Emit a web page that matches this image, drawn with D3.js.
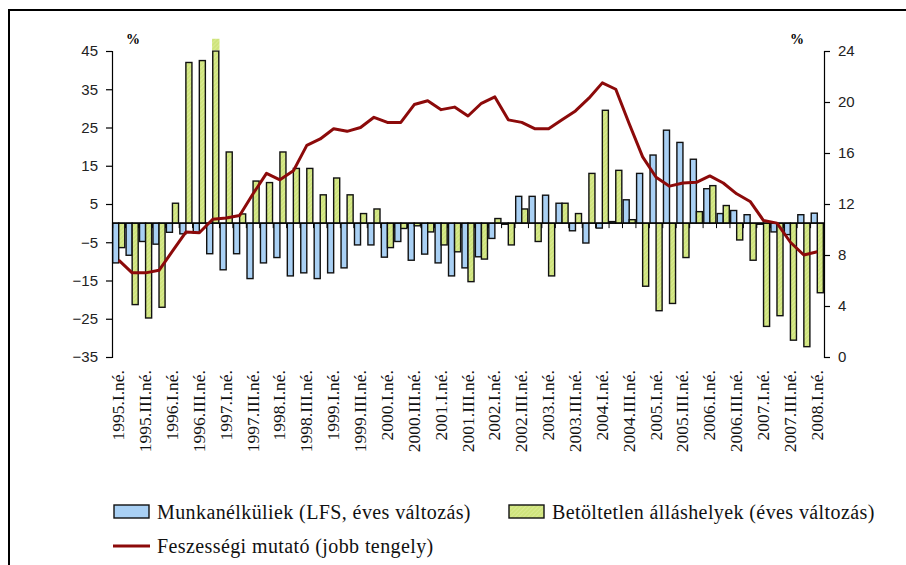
<!DOCTYPE html>
<html>
<head>
<meta charset="utf-8">
<script src="https://cdn.jsdelivr.net/npm/d3@7"></script>
<style>
  body { margin: 0; background: #fff; }
  svg { display: block; }
</style>
</head>
<body>
<svg id="chart" width="906" height="565"></svg>
<script>
// quarters 1995 Q1 .. 2008 Q1
const years = [1995, 1996, 1997, 1998, 1999, 2000, 2001, 2002, 2003, 2004, 2005, 2006, 2007, 2008];
const quarterNames = ['I', 'II', 'III', 'IV'];
const quarters = [];
years.forEach(y => quarterNames.forEach(q => quarters.push(y + '.' + q + '.né.')));
quarters.length = 53;

// Munkanélküliek (LFS, éves változás), %
const unemployed = [
  -10.4, -8.4, -4.8, -5.5, -2.4, -2.8, -2.6, -8.0,
  -12.2, -8.0, -14.5, -10.4, -9.0, -13.8, -13.0, -14.5,
  -13.0, -11.7, -5.7, -5.7, -8.9, -4.8, -9.7, -8.1,
  -10.4, -13.8, -11.7, -8.8, -4.0, -0.3, 7.0, 7.0,
  7.3, 5.2, -2.0, -5.2, -1.3, 0.4, 6.1, 13.0,
  17.8, 24.3, 21.1, 16.7, 9.0, 2.5, 3.3, 2.2,
  -0.3, -2.3, -3.0, 2.2, 2.6
];

// Betöltetlen álláshelyek (éves változás), %
const vacancies = [
  -6.4, -21.3, -24.8, -22.0, 5.2, 42.0, 42.5, 48.2,
  18.6, 2.4, 11.0, 10.6, 18.6, 14.3, 14.3, 7.4,
  11.8, 7.4, 2.5, 3.7, -6.4, -1.4, -0.7, -2.3,
  -5.7, -7.5, -15.3, -9.4, 1.2, -5.7, 3.7, -4.8,
  -13.8, 5.2, 2.5, 13.0, 29.5, 13.8, 0.9, -16.5,
  -22.9, -21.0, -9.0, 3.0, 9.8, 4.6, -4.4, -9.7,
  -27.0, -24.2, -30.6, -32.3, -18.2
];

// Feszességi mutató (jobb tengely)
const tightness = [
  7.6, 6.6, 6.6, 6.8, 8.3, 9.8, 9.75, 10.8,
  10.9, 11.1, 12.8, 14.4, 13.9, 14.6, 16.6, 17.1,
  17.9, 17.7, 18.0, 18.8, 18.4, 18.4, 19.8, 20.1,
  19.4, 19.6, 18.9, 19.9, 20.4, 18.6, 18.4, 17.9,
  17.9, 18.6, 19.3, 20.3, 21.5, 21.0, 18.3, 15.7,
  14.1, 13.4, 13.65, 13.7, 14.2, 13.65, 12.8, 12.2,
  10.7, 10.5, 9.0, 8.0, 8.25
];

const leftTicks = [45, 35, 25, 15, 5, -5, -15, -25, -35];
const rightTicks = [0, 4, 8, 12, 16, 20, 24];
const xLabels = quarters.filter((d, i) => i % 2 === 0);

const legendItems = [
  { label: 'Munkanélküliek (LFS, éves változás)', type: 'blue' },
  { label: 'Betöltetlen álláshelyek (éves változás)', type: 'green' },
  { label: 'Feszességi mutató (jobb tengely)', type: 'line' }
];

const colors = { blue: '#a9d0f4', green: '#cfe47c', line: '#8c0a0a' };

const svg = d3.select('#chart');
const plot = { left: 112, right: 824, top: 51, bottom: 357 };

// frame
svg.append('path')
  .attr('d', `M9,565 L9,10 L906,10`)
  .attr('fill', 'none')
  .attr('stroke', '#000')
  .attr('stroke-width', 2);

// hatch pattern for the green bars
const defs = svg.append('defs');
const pat = defs.append('pattern')
  .attr('id', 'hatch')
  .attr('patternUnits', 'userSpaceOnUse')
  .attr('width', 3).attr('height', 3)
  .attr('patternTransform', 'rotate(45)');
pat.append('rect').attr('width', 3).attr('height', 3).attr('fill', colors.green);
pat.append('line').attr('x1', 0).attr('y1', 0).attr('x2', 0).attr('y2', 3)
  .attr('stroke', '#e4f1a8').attr('stroke-width', 1);

const x = d3.scaleBand()
  .domain(quarters)
  .range([plot.left, plot.right])
  .paddingInner(0.1)
  .paddingOuter(0.05);

const sub = d3.scaleBand()
  .domain(['blue', 'green'])
  .range([0, x.bandwidth()]);

const yL = d3.scaleLinear().domain([-35, 45]).range([plot.bottom, plot.top]);
const yR = d3.scaleLinear().domain([0, 24]).range([plot.bottom, plot.top]);

const step = x.step();

// bars
function drawBars(values, key, fill) {
  const g = svg.append('g');
  values.forEach((v, i) => {
    const bx = x(quarters[i]) + sub(key);
    const vc = Math.max(-35, Math.min(45, v));
    g.append('rect')
      .attr('x', bx)
      .attr('width', sub.bandwidth())
      .attr('y', yL(Math.max(0, vc)))
      .attr('height', Math.abs(yL(vc) - yL(0)))
      .attr('fill', fill)
      .attr('stroke', '#111')
      .attr('stroke-width', 1.4);
    if (v > 45) {
      // the part beyond the axis is shown without an outline
      g.append('rect')
        .attr('x', bx - 0.7)
        .attr('width', sub.bandwidth() + 1.4)
        .attr('y', yL(v))
        .attr('height', yL(45) - yL(v) - 0.7)
        .attr('fill', fill);
    }
  });
}
drawBars(unemployed, 'blue', colors.blue);
drawBars(vacancies, 'green', 'url(#hatch)');

// zero line + category ticks
svg.append('line')
  .attr('x1', plot.left).attr('x2', plot.right)
  .attr('y1', yL(0)).attr('y2', yL(0))
  .attr('stroke', '#000').attr('stroke-width', 1.2);
svg.append('g').selectAll('line')
  .data(d3.range(quarters.length + 1))
  .join('line')
  .attr('x1', i => plot.left + x.paddingOuter() * step + i * step - (i > 0 ? x.paddingInner() * step / 2 : 0))
  .attr('x2', i => plot.left + x.paddingOuter() * step + i * step - (i > 0 ? x.paddingInner() * step / 2 : 0))
  .attr('y1', yL(0)).attr('y2', yL(0) + 5)
  .attr('stroke', '#000').attr('stroke-width', 1);

// left axis
const leftAxis = svg.append('g')
  .attr('transform', `translate(${plot.left},0)`)
  .call(d3.axisLeft(yL).tickValues(leftTicks).tickSize(6).tickPadding(8));
// right axis
const rightAxis = svg.append('g')
  .attr('transform', `translate(${plot.right},0)`)
  .call(d3.axisRight(yR).tickValues(rightTicks).tickSize(6).tickPadding(8));
[leftAxis, rightAxis].forEach(a => {
  a.select('.domain').attr('stroke', '#000').attr('stroke-width', 1.2);
  a.selectAll('.tick line').attr('stroke', '#000').attr('stroke-width', 1.2);
  a.selectAll('.tick text')
    .attr('font-family', 'Liberation Sans, Arial, sans-serif')
    .attr('font-size', 15)
    .attr('fill', '#222');
});

// line series
const line = d3.line()
  .x((d, i) => x(quarters[i]) + x.bandwidth() / 2)
  .y(d => yR(d));
svg.append('path')
  .datum(tightness)
  .attr('d', line)
  .attr('fill', 'none')
  .attr('stroke', colors.line)
  .attr('stroke-width', 3)
  .attr('stroke-linejoin', 'round');

// x labels
svg.append('g').selectAll('text')
  .data(xLabels)
  .join('text')
  .attr('transform', d => `translate(${x(d) + x.bandwidth() / 2 + 5.5},370) rotate(-90)`)
  .attr('text-anchor', 'end')
  .attr('font-family', 'Liberation Serif, Times New Roman, serif')
  .attr('font-size', 17.5)
  .attr('fill', '#111')
  .text(d => d);

// unit labels
[[133, 44], [797, 44]].forEach(([ux, uy]) => {
  svg.append('text')
    .attr('x', ux).attr('y', uy)
    .attr('text-anchor', 'middle')
    .attr('font-family', 'Liberation Serif, serif')
    .attr('font-weight', 'bold')
    .attr('font-size', 14)
    .text('%');
});

// legend
const legendPos = [[113, 519], [508, 519], [113, 553]];
legendItems.forEach((item, k) => {
  const [lx, ly] = legendPos[k];
  const g = svg.append('g').attr('transform', `translate(${lx},${ly})`);
  if (item.type === 'line') {
    g.append('line').attr('x1', 0).attr('x2', 37).attr('y1', -7).attr('y2', -7)
      .attr('stroke', colors.line).attr('stroke-width', 3);
  } else {
    g.append('rect').attr('x', 1).attr('y', -14).attr('width', 35).attr('height', 13)
      .attr('fill', item.type === 'blue' ? colors.blue : 'url(#hatch)')
      .attr('stroke', '#111').attr('stroke-width', 1.4);
  }
  g.append('text')
    .attr('x', 44).attr('y', 0)
    .attr('font-family', 'Liberation Serif, Times New Roman, serif')
    .attr('font-size', 20)
    .attr('letter-spacing', 0.4)
    .attr('fill', '#111')
    .text(item.label);
});
</script>
</body>
</html>
